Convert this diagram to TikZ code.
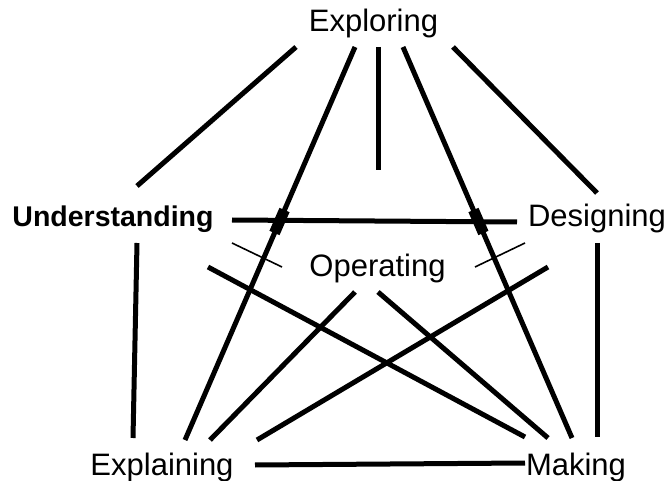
\documentclass[tikz,border=0pt]{standalone}
\usepackage{fontspec}
\setmainfont{Liberation Sans}
\begin{document}
\begin{tikzpicture}[x=1pt,y=-1pt,
  lbl/.style={anchor=base,inner sep=0pt,font=\fontsize{31}{31}\selectfont},
  lblb/.style={anchor=base,inner sep=0pt,font=\fontsize{28.5}{31}\selectfont\bfseries},
  link/.style={line width=5pt,black},
  thinlink/.style={line width=1.6pt,black},
  blob/.style={line width=11pt,black}]
\useasboundingbox (0,0) rectangle (670,481);
% labels
\node[lbl]  (Exploring)     at (373.5,32)  {Exploring};
\node[lblb] (Understanding) at (113,227)   {Understanding};
\node[lbl]  (Designing)     at (597,227)   {Designing};
\node[lbl]  (Operating)     at (377.5,277) {Operating};
\node[lbl]  (Explaining)    at (162,475)   {Explaining};
\node[lbl]  (Making)        at (576,475)   {Making};
% connector end points
\coordinate (xU) at (296,47);  \coordinate (Ux) at (137,186);
\coordinate (xE) at (355,47);  \coordinate (Ex) at (185,440);
\coordinate (xO) at (378,47);  \coordinate (Ox) at (378,170);
\coordinate (xM) at (403,47);  \coordinate (Mx) at (572,438);
\coordinate (xD) at (453,47);  \coordinate (Dx) at (597,193);
\coordinate (UD) at (232,220); \coordinate (DU) at (517,222);
\coordinate (UE) at (137,243); \coordinate (EU) at (133,438);
\coordinate (UM) at (208,267); \coordinate (MU) at (525,437);
\coordinate (DM) at (597,243); \coordinate (MD) at (597,437);
\coordinate (DE) at (548,267); \coordinate (ED) at (257,440);
\coordinate (OE) at (355,292); \coordinate (EO) at (210,440);
\coordinate (OM) at (378,292); \coordinate (MO) at (548,438);
\coordinate (EM) at (255,465); \coordinate (ME) at (525,463);
\coordinate (UO) at (232,243); \coordinate (OU) at (282,267);
\coordinate (OD) at (475,267); \coordinate (DO) at (525,243);
% crossing marks
\coordinate (b1a) at (284.5,210); \coordinate (b1b) at (274.5,233);
\coordinate (b2a) at (473.5,210); \coordinate (b2b) at (483.4,233);
% thick connectors
\draw[link] (xU) -- (Ux);
\draw[link] (xE) -- (Ex);
\draw[link] (xO) -- (Ox);
\draw[link] (xM) -- (Mx);
\draw[link] (xD) -- (Dx);
\draw[link] (UD) -- (DU);
\draw[link] (UE) -- (EU);
\draw[link] (UM) -- (MU);
\draw[link] (DM) -- (MD);
\draw[link] (DE) -- (ED);
\draw[link] (OE) -- (EO);
\draw[link] (OM) -- (MO);
\draw[link] (EM) -- (ME);
% thin connectors
\draw[thinlink] (UO) -- (OU);
\draw[thinlink] (OD) -- (DO);
% bridge blobs
\draw[blob] (b1a) -- (b1b);
\draw[blob] (b2a) -- (b2b);
\end{tikzpicture}
\end{document}
